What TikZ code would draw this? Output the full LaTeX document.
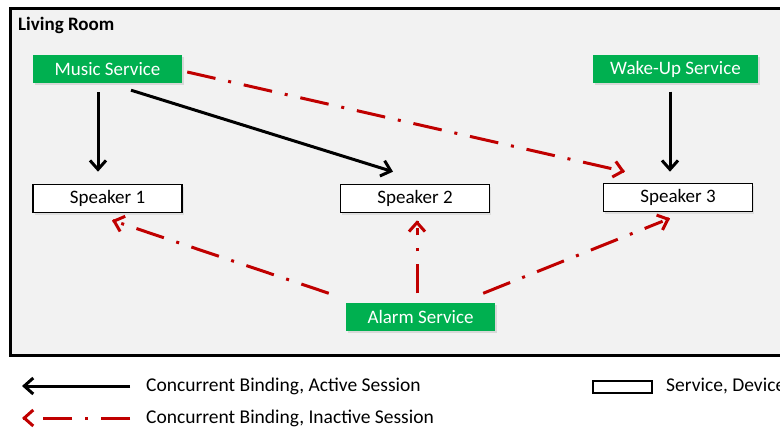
\documentclass[tikz,border=0pt]{standalone}
\usepackage{fontspec}
\setmainfont{Carlito}
\usetikzlibrary{arrows.meta,calc,shadows}
\definecolor{grn}{HTML}{00B050}
\definecolor{redc}{HTML}{C00000}
\definecolor{bg}{HTML}{F2F2F2}
\tikzset{
  svc/.style={fill=grn, text=white, minimum width=149pt, minimum height=28pt, inner sep=0pt,
    font=\fontsize{19}{21}\selectfont,
    drop shadow={shadow xshift=1.5pt, shadow yshift=-2pt, fill=black!25}},
  dev/.style={fill=white, draw=black, line width=1.6pt, minimum width=149pt, minimum height=28pt, inner sep=0pt,
    font=\fontsize{19}{21}\selectfont,
    drop shadow={shadow xshift=1.5pt, shadow yshift=-2pt, fill=black!20}},
  active/.style={draw=black, line width=3pt, -{Straight Barb[length=9pt,width=16pt,line width=3pt]}},
  inactive/.style={draw=redc, line width=3pt, dash pattern=on 29pt off 13pt on 3pt off 13pt, shorten >=8pt},
  redtip/.style={draw=redc, line width=3pt, solid, -{Straight Barb[length=9pt,width=16pt,line width=3pt]}},
  lbl/.style={anchor=west, inner sep=0pt, font=\fontsize{19.5}{21}\selectfont}
}
\begin{document}
\begin{tikzpicture}[x=1pt,y=-1pt]
\useasboundingbox (0,0) rectangle (780,428);
\clip (0,0) rectangle (780,428);
\fill[white] (0,0) rectangle (780,428);
\draw[fill=bg, line width=3pt] (10,9) rectangle (800,355);
\node[anchor=west, inner sep=0pt, font=\bfseries\fontsize{19}{21}\selectfont] (room) at (18,25) {Living Room};

\node[svc] (music) at (107.5,69) {Music Service};
\node[svc, minimum width=165pt] (wake) at (675.5,69.5) {Wake-Up Service};
\node[svc] (alarm) at (420.5,316.5) {Alarm Service};
\node[dev] (sp1) at (107.5,198.5) {Speaker 1};
\node[dev] (sp2) at (415,198.5) {Speaker 2};
\node[dev] (sp3) at (678,197.5) {Speaker 3};

\draw[active] ($(music.south)+(-9.5,9)$) -- ($(sp1.north)+(-9.5,-12)$);
\draw[active] ($(music.south)+(23.5,7)$) -- ($(sp2.north)+(-22,-12)$);
\draw[active] ($(wake.south)+(-5.5,8)$) -- ($(sp3.north)+(-8,-11)$);

\coordinate (m3a) at ($(music.east)+(5,3)$);
\coordinate (m3b) at ($(sp3.north)+(-53,-11)$);
\draw[inactive] (m3a) -- (m3b);
\draw[redtip] ($(m3b)!1pt!(m3a)$) -- (m3b);

\coordinate (a1a) at ($(alarm.north west)+(-17,-9)$);
\coordinate (a1b) at ($(sp1.south)+(4.5,7)$);
\draw[inactive] (a1a) -- (a1b);
\draw[redtip] ($(a1b)!1pt!(a1a)$) -- (a1b);

\coordinate (a2a) at ($(alarm.north)+(-3.5,-9)$);
\coordinate (a2b) at ($(sp2.south)+(2,7)$);
\draw[inactive] (a2a) -- (a2b);
\draw[redtip] ($(a2b)!1pt!(a2a)$) -- (a2b);

\coordinate (a3a) at ($(alarm.north east)+(-12,-9)$);
\coordinate (a3b) at ($(sp3.south)+(-8,6)$);
\draw[inactive] (a3a) -- (a3b);
\draw[redtip] ($(a3b)!1pt!(a3a)$) -- (a3b);

% legend
\coordinate (la1) at (130,386);
\coordinate (lb1) at (22,386);
\coordinate (la2) at (130,418);
\coordinate (lb2) at (22,418);
\draw[active] (la1) -- (lb1);
\draw[inactive] (la2) -- (lb2);
\draw[redtip] ($(lb2)!1pt!(la2)$) -- (lb2);
\node[lbl] (t1) at (146,386) {Concurrent Binding, Active Session};
\node[lbl] (t2) at (146,418) {Concurrent Binding, Inactive Session};
\node[draw=black, line width=1.6pt, fill=white, minimum width=59pt, minimum height=12pt, inner sep=0pt] (lr) at (622.5,387) {};
\node[lbl] (t3) at (666,386) {Service, Device};
\end{tikzpicture}
\end{document}
